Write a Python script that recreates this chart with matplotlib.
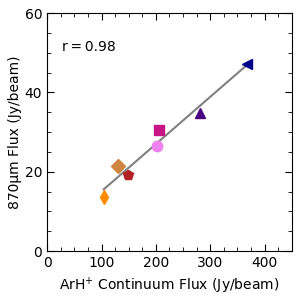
import numpy as np
import matplotlib
matplotlib.use("Agg")
import matplotlib.pyplot as plt
from matplotlib.ticker import MultipleLocator

arh_flux = [104, 130, 148, 202, 205, 281, 367]
cont_flux = [13.5, 21.5, 19.2, 26.4, 30.6, 34.8, 47.2]
markers = ["d", "D", "p", "o", "s", "^", "<"]
colors = ["darkorange", "peru", "firebrick", "violet", "mediumvioletred", "indigo", "darkblue"]
r_value = 0.98

fig = plt.figure(figsize=(3.0, 2.96), dpi=100)
ax = fig.add_axes([0.157, 0.152, 0.816, 0.804])

slope, icpt = np.polyfit(arh_flux, cont_flux, 1)
xs = np.array([min(arh_flux), max(arh_flux)])
ax.plot(xs, slope * xs + icpt, color="gray", lw=1.5, zorder=1)

for x, y, m, c in zip(arh_flux, cont_flux, markers, colors):
    ax.plot(x, y, marker=m, color=c, ms=7.5, ls="none", zorder=2)

ax.text(27, 51.5, f"r\u2009=\u2009{r_value}", fontsize=10, va="center")

ax.set_xlim(0, 450)
ax.set_ylim(0, 60)
ax.xaxis.set_major_locator(MultipleLocator(100))
ax.xaxis.set_minor_locator(MultipleLocator(25))
ax.yaxis.set_major_locator(MultipleLocator(20))
ax.yaxis.set_minor_locator(MultipleLocator(5))
ax.tick_params(which="both", direction="in", top=True, right=True, labelsize=10)
ax.tick_params(which="major", length=5)
ax.tick_params(which="minor", length=3)

ax.set_xlabel("ArH$^{+}$ Continuum Flux (Jy/beam)", fontsize=10, labelpad=4)
ax.set_ylabel("870µm Flux (Jy/beam)", fontsize=10, labelpad=2)

plt.savefig("out.png")
plt.close()
